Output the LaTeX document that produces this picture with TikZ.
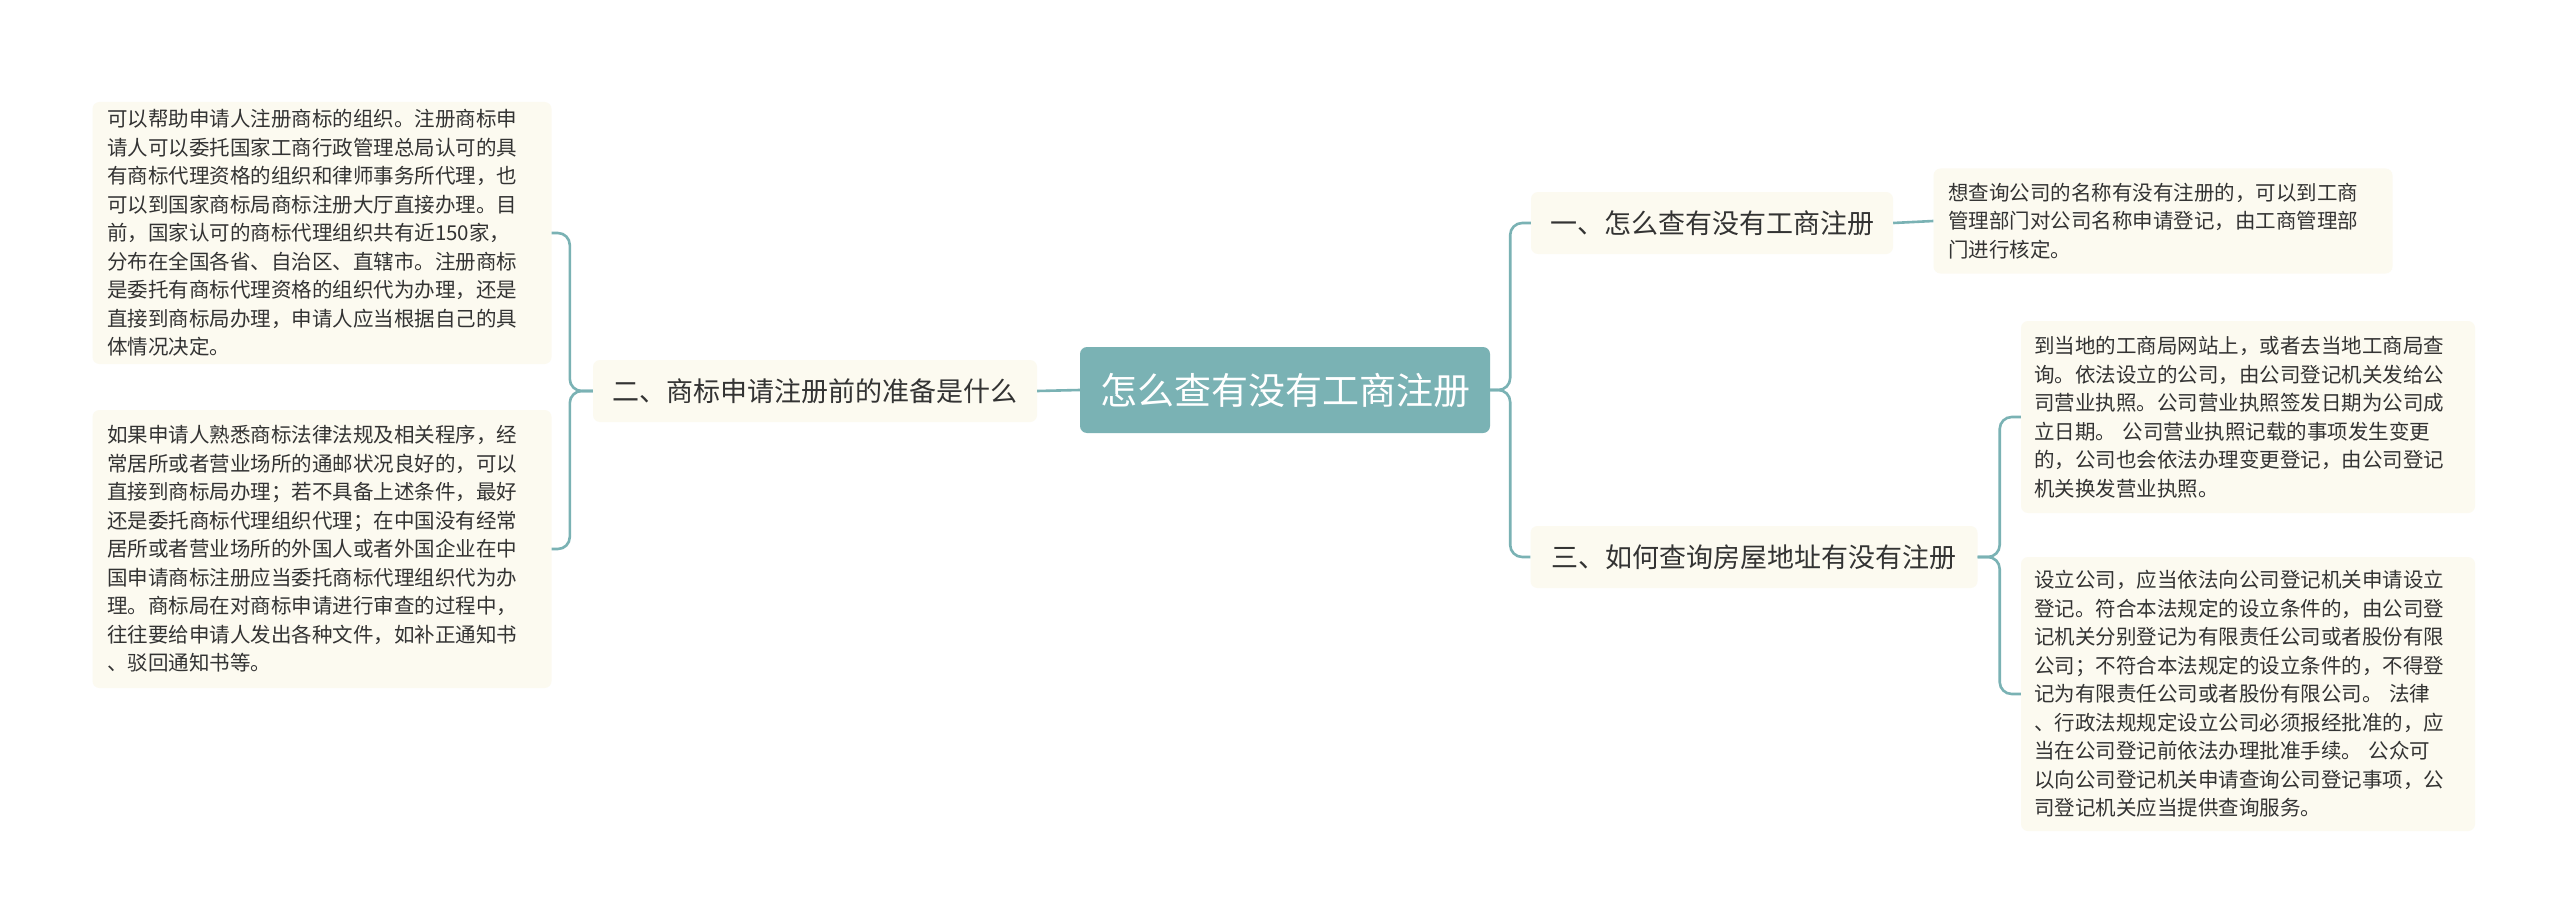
\documentclass[tikz,border=0pt]{standalone}
\usepackage{fontspec}
\newfontfamily\cjk{Noto Sans CJK SC}
\definecolor{teal1}{HTML}{7AB2B4}
\definecolor{cream}{HTML}{FCFAF0}
\definecolor{txt}{HTML}{333333}
\tikzset{
 rootbox/.style={fill=teal1,rounded corners=7pt,text=white,font=\cjk\fontsize{37}{44}\selectfont,minimum width=410pt,minimum height=86pt,inner sep=0pt},
 branchbox/.style={fill=cream,rounded corners=7pt,text=txt,font=\cjk\fontsize{27}{34}\selectfont,minimum height=62pt,inner sep=0pt},
 leafbox/.style={fill=cream,rounded corners=7pt,text=txt,font=\cjk\fontsize{20.5}{28.5}\selectfont,align=left,inner sep=0pt},
 link/.style={draw=teal1,line width=2.6pt,rounded corners=12pt}
}
\begin{document}
\begin{tikzpicture}[x=1pt,y=-1pt]
\useasboundingbox[fill=white] (0,0) rectangle (2560,923);
\node[rootbox] (root) at (1285,390) {怎么查有没有工商注册};
\node[branchbox,minimum width=444pt] (b2) at (815,391) {二、商标申请注册前的准备是什么};
\node[branchbox,minimum width=362pt] (b1) at (1712,223) {一、怎么查有没有工商注册};
\node[branchbox,minimum width=447pt] (b3) at (1754,557) {三、如何查询房屋地址有没有注册};
\node[leafbox,minimum width=459pt,minimum height=262pt,text width=430pt] (l1) at (322,233) {可以帮助申请人注册商标的组织。注册商标申\\请人可以委托国家工商行政管理总局认可的具\\有商标代理资格的组织和律师事务所代理，也\\可以到国家商标局商标注册大厅直接办理。目\\前，国家认可的商标代理组织共有近150家，\\分布在全国各省、自治区、直辖市。注册商标\\是委托有商标代理资格的组织代为办理，还是\\直接到商标局办理，申请人应当根据自己的具\\体情况决定。};
\node[leafbox,minimum width=459pt,minimum height=278pt,text width=430pt] (l2) at (322,549) {如果申请人熟悉商标法律法规及相关程序，经\\常居所或者营业场所的通邮状况良好的，可以\\直接到商标局办理；若不具备上述条件，最好\\还是委托商标代理组织代理；在中国没有经常\\居所或者营业场所的外国人或者外国企业在中\\国申请商标注册应当委托商标代理组织代为办\\理。商标局在对商标申请进行审查的过程中，\\往往要给申请人发出各种文件，如补正通知书\\、驳回通知书等。};
\node[leafbox,minimum width=459pt,minimum height=105pt,text width=430pt] (r1) at (2163,221) {想查询公司的名称有没有注册的，可以到工商\\管理部门对公司名称申请登记，由工商管理部\\门进行核定。};
\node[leafbox,minimum width=454pt,minimum height=192pt,text width=428pt] (r2) at (2248,417) {到当地的工商局网站上，或者去当地工商局查\\询。依法设立的公司，由公司登记机关发给公\\司营业执照。公司营业执照签发日期为公司成\\立日期。 公司营业执照记载的事项发生变更\\的，公司也会依法办理变更登记，由公司登记\\机关换发营业执照。};
\node[leafbox,minimum width=454pt,minimum height=274pt,text width=428pt] (r3) at (2248,694) {设立公司，应当依法向公司登记机关申请设立\\登记。符合本法规定的设立条件的，由公司登\\记机关分别登记为有限责任公司或者股份有限\\公司；不符合本法规定的设立条件的，不得登\\记为有限责任公司或者股份有限公司。 法律\\、行政法规规定设立公司必须报经批准的，应\\当在公司登记前依法办理批准手续。 公众可\\以向公司登记机关申请查询公司登记事项，公\\司登记机关应当提供查询服务。};
\draw[link,rounded corners=0pt] (root.west) -- (b2.east);
\draw[link] (b2.west) -- ++(-23,0) |- (l1.east);
\draw[link] (b2.west) -- ++(-23,0) |- (l2.east);
\draw[link] (root.east) -- ++(20,0) |- (b1.west);
\draw[link] (root.east) -- ++(20,0) |- (b3.west);
\draw[link,rounded corners=0pt] (b1.east) -- (r1.west);
\draw[link] (b3.east) -- ++(22,0) |- (r2.west);
\draw[link] (b3.east) -- ++(22,0) |- (r3.west);
\end{tikzpicture}
\end{document}
